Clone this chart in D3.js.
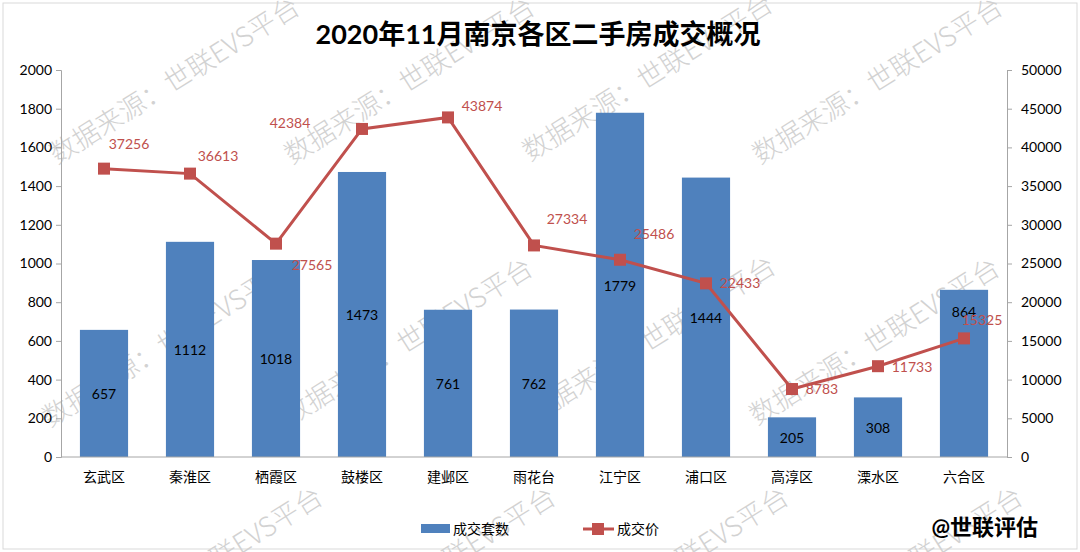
<!DOCTYPE html>
<html>
<head>
<meta charset="utf-8">
<script src="https://cdn.jsdelivr.net/npm/d3@7"></script>
<style>
  body { margin: 0; background: #fff; }
  text { font-family: Lato, "Noto Sans CJK SC", sans-serif; }
</style>
</head>
<body>
<div id="chart"></div>
<script>
// 2020年11月南京各区二手房成交概况
const districts = ["玄武区", "秦淮区", "栖霞区", "鼓楼区", "建邺区", "雨花台", "江宁区", "浦口区", "高淳区", "溧水区", "六合区"];
const deals = [657, 1112, 1018, 1473, 761, 762, 1779, 1444, 205, 308, 864];
const prices = [37256, 36613, 27565, 42384, 43874, 27334, 25486, 22433, 8783, 11733, 15325];
const leftTicks = [0, 200, 400, 600, 800, 1000, 1200, 1400, 1600, 1800, 2000];
const rightTicks = [0, 5000, 10000, 15000, 20000, 25000, 30000, 35000, 40000, 45000, 50000];

// label nudges (px)
const barLabelShift = [0, 0, 0, 0, 0, 0, 0, 0, 0, 0, -62];
const priceLabelOffset = [[25, -25], [28, -18], [36, 21], [-72, -6], [34, -11], [33, -26], [34, -26], [34, 0], [30, 0], [34, 1], [18, -18]];
// watermark anchors
const wmRows = [[[57, 165], [292, 165], [530, 162], [760, 165]],
                [[50, 428], [290, 426], [533, 424], [757, 426]],
                [[80, 655], [313, 655], [546, 655], [780, 655]]];

const width = 1080, height = 552;
const margin = { top: 70, right: 73, bottom: 95, left: 61 };

const svg = d3.select("#chart").append("svg")
  .attr("width", width)
  .attr("height", height);

// chart border
svg.append("rect")
  .attr("x", 3).attr("y", 3)
  .attr("width", width - 6).attr("height", height - 6)
  .attr("fill", "#fff")
  .attr("stroke", "#d9d9d9");

const x = d3.scaleBand()
  .domain(districts)
  .range([margin.left, width - margin.right])
  .paddingInner(0.44)
  .paddingOuter(0.22);

const yL = d3.scaleLinear().domain([0, 2000]).range([height - margin.bottom, margin.top]);
const yR = d3.scaleLinear().domain([0, 50000]).range([height - margin.bottom, margin.top]);

// watermarks (behind bars)
const wm = svg.append("g").attr("fill", "#d2d2d2").style("font-size", "27px");
wmRows.flat().forEach(p => {
  wm.append("text")
    .attr("transform", `translate(${p[0]},${p[1]}) rotate(-32)`)
    .style("font-family", "'Noto Sans CJK SC', sans-serif")
    .style("font-weight", 300)
    .text("数据来源：世联EVS平台");
});

svg.append("text")
  .attr("x", 538).attr("y", 44)
  .attr("text-anchor", "middle")
  .style("font-size", "27px").style("font-weight", "bold")
  .text("2020年11月南京各区二手房成交概况");

// bars
svg.append("g").selectAll("rect")
  .data(deals)
  .join("rect")
  .attr("x", (d, i) => x(districts[i]))
  .attr("y", d => yL(d))
  .attr("width", x.bandwidth())
  .attr("height", d => yL(0) - yL(d))
  .attr("fill", "#4f81bd");

svg.append("g").selectAll("text")
  .data(deals)
  .join("text")
  .attr("x", (d, i) => x(districts[i]) + x.bandwidth() / 2)
  .attr("y", (d, i) => (yL(d) + yL(0)) / 2 + 1 + barLabelShift[i])
  .attr("dy", "0.35em")
  .attr("text-anchor", "middle")
  .style("font-size", "14px")
  .attr("fill", "#000")
  .text(d => d);

// axes
const axisL = svg.append("g")
  .attr("transform", `translate(${margin.left},0)`)
  .call(d3.axisLeft(yL).tickValues(leftTicks).tickFormat(d3.format("d")).tickSize(5).tickPadding(4));
const axisR = svg.append("g")
  .attr("transform", `translate(${width - margin.right},0)`)
  .call(d3.axisRight(yR).tickValues(rightTicks).tickFormat(d3.format("d")).tickSize(5).tickPadding(9));
const axisB = svg.append("g")
  .attr("transform", `translate(0,${yL(0)})`)
  .call(d3.axisBottom(x).tickSize(0).tickPadding(15));

[axisL, axisR, axisB].forEach(a => {
  a.selectAll("path, line").attr("stroke", "#a6a6a6");
  a.selectAll("text").style("font-size", "14px").attr("fill", "#000");
});
axisB.select(".domain").attr("d", `M${margin.left},0H${width - margin.right}`);

// price line
const line = d3.line()
  .x((d, i) => x(districts[i]) + x.bandwidth() / 2)
  .y(d => yR(d));

svg.append("path")
  .datum(prices)
  .attr("d", line)
  .attr("fill", "none")
  .attr("stroke", "#c0504d")
  .attr("stroke-width", 3);

svg.append("g").selectAll("rect")
  .data(prices)
  .join("rect")
  .attr("x", (d, i) => x(districts[i]) + x.bandwidth() / 2 - 6)
  .attr("y", d => yR(d) - 6)
  .attr("width", 12).attr("height", 12)
  .attr("fill", "#c0504d");

svg.append("g").selectAll("text")
  .data(prices)
  .join("text")
  .attr("x", (d, i) => x(districts[i]) + x.bandwidth() / 2 + priceLabelOffset[i][0])
  .attr("y", (d, i) => yR(d) + priceLabelOffset[i][1])
  .attr("dy", "0.35em")
  .attr("text-anchor", "middle")
  .style("font-size", "14px")
  .attr("fill", "#c0504d")
  .text(d => d);

// legend
const lg = svg.append("g").style("font-size", "14px");
lg.append("rect").attr("x", 421).attr("y", 524).attr("width", 29).attr("height", 9).attr("fill", "#4f81bd");
lg.append("text").attr("x", 453).attr("y", 529).attr("dy", "0.35em").text("成交套数");
lg.append("line").attr("x1", 583).attr("x2", 614).attr("y1", 529).attr("y2", 529)
  .attr("stroke", "#c0504d").attr("stroke-width", 3);
lg.append("rect").attr("x", 592).attr("y", 523).attr("width", 12).attr("height", 12).attr("fill", "#c0504d");
lg.append("text").attr("x", 617).attr("y", 529).attr("dy", "0.35em").text("成交价");

svg.append("text")
  .attr("x", 1038).attr("y", 527)
  .attr("dy", "0.35em")
  .attr("text-anchor", "end")
  .style("font-size", "22px").style("font-weight", "bold")
  .text("@世联评估");
</script>
</body>
</html>
